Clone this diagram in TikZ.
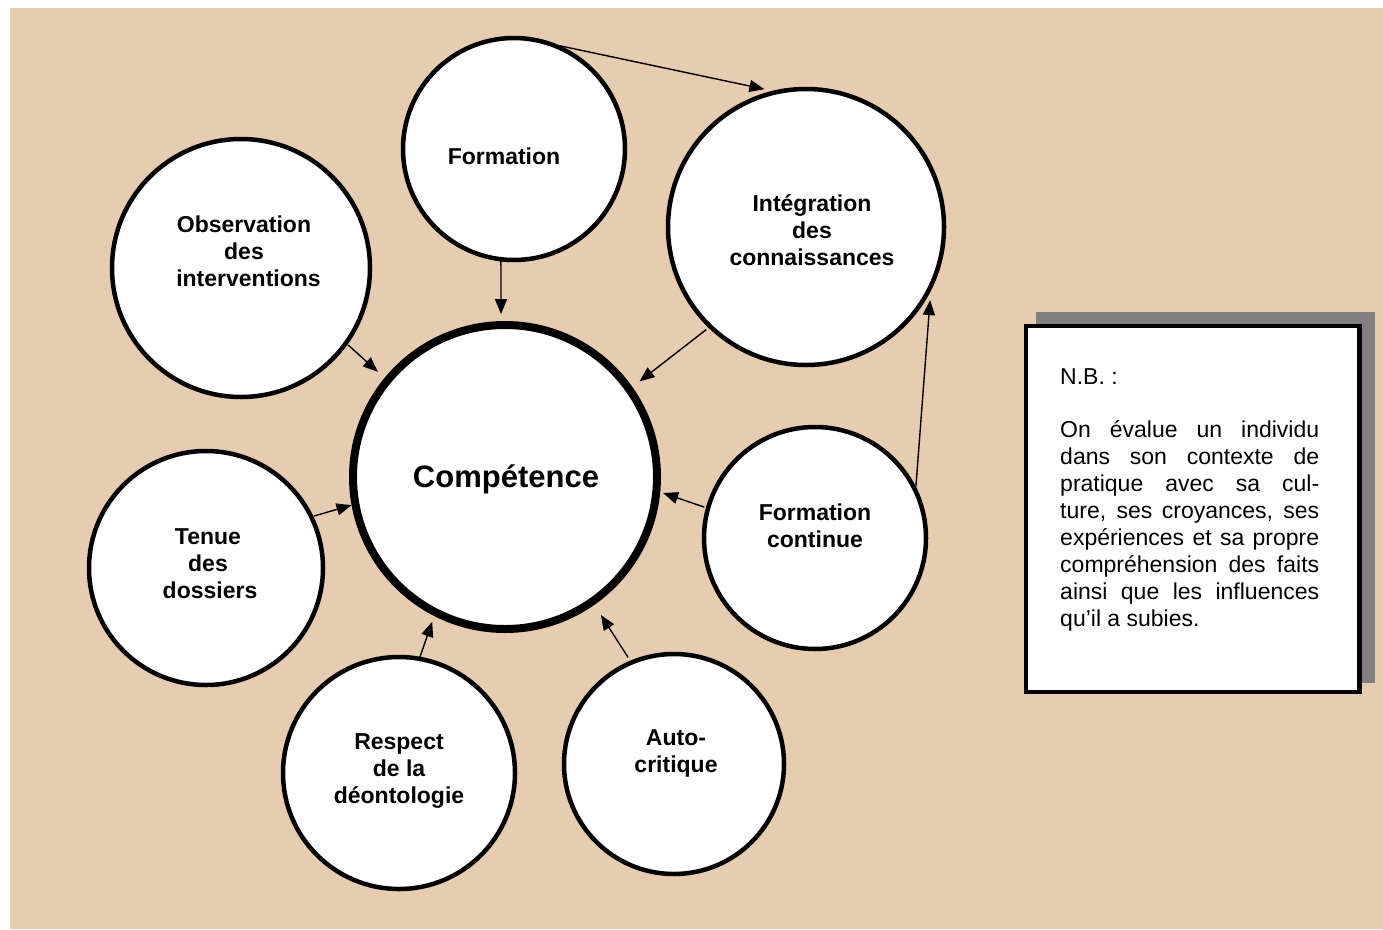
\documentclass[tikz,border=0pt]{standalone}
\usepackage{fontspec}
\setmainfont{Liberation Sans}
\usetikzlibrary{arrows.meta,calc}
\definecolor{tanbg}{RGB}{230,204,176}
\definecolor{shadowgray}{RGB}{128,128,128}
\begin{document}
\begin{tikzpicture}[x=1pt,y=1pt,
  bub/.style={circle,draw=black,fill=white,line width=4.5pt,inner sep=0pt},
  lab/.style={font=\fontsize{23}{27}\selectfont\bfseries,align=center,inner sep=0pt},
  arr/.style={-{Triangle[length=15pt,width=12pt]},line width=1.4pt},
  bodytxt/.style={font=\fontsize{23}{27}\selectfont,anchor=base west,inner sep=0pt}]
\useasboundingbox (0,0) rectangle (1383,-929);
\fill[tanbg] (10,-8) rectangle (1383,-929);

% circles
\node[bub,minimum size=222pt] (form) at (514,-149) {};
\node[bub,minimum size=276pt] (integ) at (806,-227) {};
\node[bub,minimum size=258pt] (obs) at (241,-268) {};
\node[bub,minimum size=304pt,line width=8pt] (comp) at (505,-477) {};
\node[bub,minimum size=222pt] (fc) at (815,-538) {};
\node[bub,minimum size=234pt] (tenue) at (206,-568) {};
\node[bub,minimum size=232pt] (resp) at (399,-773) {};
\node[bub,minimum size=220pt] (auto) at (674,-764) {};

% labels
\node[lab] (formT) at (504,-156) {Formation};
\node[lab] (integT) at (812,-230) {Intégration\\des\\connaissances};
\node[lab] (obsT) at (244,-251) {Observation\\des\\\hspace*{9pt}interventions};
\node[lab,font=\fontsize{31}{36}\selectfont\bfseries] (compT) at (506,-479) {Compétence};
\node[lab] (fcT) at (815,-526) {Formation\\continue};
\node[lab] (tenueT) at (208,-564) {Tenue\\des\\\hspace*{4pt}dossiers};
\node[lab] (respT) at (399,-771) {Respect\\de la\\déontologie};
\node[lab] (autoT) at (676,-753) {Auto-\\critique};

% arrows
\draw[arr] ($(form)+(65.9:113)$) -- ($(integ)+(106.8:144)$);
\draw[arr] ($(form)+(-96.7:112)$) -- ($(comp)+(91.4:163)$);
\draw[arr] ($(obs)+(-35.7:132)$) -- ($(comp)+(140.4:165)$);
\draw[arr] ($(integ)+(-134.2:143)$) -- ($(comp)+(35.4:165)$);
\draw[arr] ($(fc)+(164.4:115)$) -- ($(comp)+(-5.8:159)$);
\draw[arr] ($(fc)+(26.8:113)$) -- ($(integ)+(-30.5:144)$);
\draw[arr] ($(tenue)+(25.7:120)$) -- ($(comp)+(-169.6:156)$);
\draw[arr] ($(resp)+(80:115)$) -- ($(comp)+(-116.7:162)$);
\draw[arr] ($(auto)+(113.3:116)$) -- ($(comp)+(-55.2:168)$);

% note box
\fill[shadowgray] (1036,-312) rectangle (1375,-683);
\draw[line width=4.5pt,fill=white] (1026,-326) rectangle (1359.5,-692);
\node[bodytxt] (nb) at (1060,-384) {N.B. :};
\node[bodytxt] (l1) at (1060,-437) {\makebox[259pt][s]{On évalue un individu}};
\node[bodytxt] (l2) at (1060,-464) {\makebox[259pt][s]{dans son contexte de}};
\node[bodytxt] (l3) at (1060,-491) {\makebox[259pt][s]{pratique avec sa cul-}};
\node[bodytxt] (l4) at (1060,-518) {\makebox[259pt][s]{ture, ses croyances, ses}};
\node[bodytxt] (l5) at (1060,-545) {\makebox[259pt][s]{expériences et sa propre}};
\node[bodytxt] (l6) at (1060,-572) {\makebox[259pt][s]{compréhension des faits}};
\node[bodytxt] (l7) at (1060,-599) {\makebox[259pt][s]{ainsi que les influences}};
\node[bodytxt] (l8) at (1060,-626) {qu’il a subies.};
\end{tikzpicture}
\end{document}
